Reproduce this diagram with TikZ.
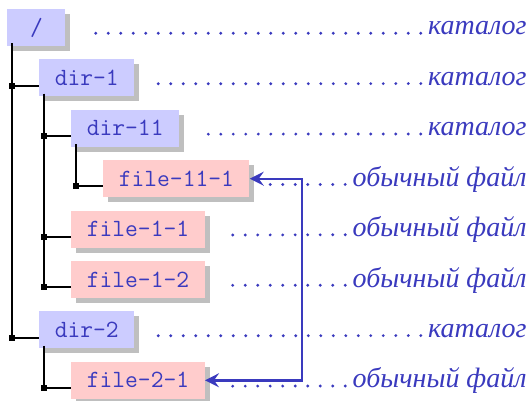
\documentclass[tikz,border=0pt]{standalone}
\usepackage{fontspec}
\newfontfamily\cyrit{Liberation Serif}
\usetikzlibrary{shadows,arrows.meta,calc}
\definecolor{txtblue}{RGB}{58,58,190}
\definecolor{dirfill}{RGB}{204,204,255}
\definecolor{filefill}{RGB}{255,204,204}
\definecolor{shadowgray}{RGB}{191,191,191}
\begin{document}
\begin{tikzpicture}[x=0.5pt,y=-0.5pt,
  box/.style={anchor=west, minimum height=18.5pt, minimum width=29pt, inner xsep=7.75pt, inner ysep=0pt,
    text=txtblue, font=\fontsize{12.4}{14}\selectfont\ttfamily,
    drop shadow={shadow xshift=2.5pt, shadow yshift=-2.5pt, fill=shadowgray, opacity=1}},
  dirbox/.style={box, fill=dirfill},
  filebox/.style={box, fill=filefill},
  lab/.style={anchor=base east, inner sep=0pt, text=txtblue, font=\cyrit\itshape\fontsize{14}{16}\selectfont},
  dots/.style={txtblue, line width=1.6pt, line cap=round, dash pattern=on 0pt off 6.25pt},
  tree/.style={black, line width=1pt},
  treedot/.style={fill=black, inner sep=0pt, minimum size=3pt},
  link/.style={txtblue, line width=1.2pt, {Stealth[length=7pt,width=7pt,inset=2.5pt]}-{Stealth[length=7pt,width=7pt,inset=2.5pt]}}
]
\useasboundingbox (0,0) rectangle (530,401);
% boxes
\node[dirbox]  (root) at (7,27.5)   {/};
\node[dirbox]  (d1)   at (39,77.9)  {dir-1};
\node[dirbox]  (d11)  at (71,128.3) {dir-11};
\node[filebox] (f111) at (103,178.7){file-11-1};
\node[filebox] (f11)  at (71,229.1) {file-1-1};
\node[filebox] (f12)  at (71,279.5) {file-1-2};
\node[dirbox]  (d2)   at (39,329.9) {dir-2};
\node[filebox] (f21)  at (71,380.3) {file-2-1};
% labels
\node[lab] (l0) at (527,35)    {каталог};
\node[lab] (l1) at (527,85.4)  {каталог};
\node[lab] (l2) at (527,135.8) {каталог};
\node[lab] (l3) at (527,186.2) {обычный файл};
\node[lab] (l4) at (527,236.6) {обычный файл};
\node[lab] (l5) at (527,287)   {обычный файл};
\node[lab] (l6) at (527,337.4) {каталог};
\node[lab] (l7) at (527,387.8) {обычный файл};
% dotted leaders
\foreach \b/\l in {root/l0,d1/l1,d11/l2,f111/l3,f11/l4,f12/l5,d2/l6,f21/l7}{
  \draw[dots] ([xshift=-3.5pt,yshift=0.9pt]\l.base west) -- ([xshift=10pt,yshift=0.9pt]\b.base east);
}
% tree
\foreach \p/\c in {root/d1,root/d2,d1/d11,d1/f11,d1/f12,d11/f111,d2/f21}{
  \draw[tree] ([xshift=2.5pt,yshift=1.5pt]\p.south west) |- (\c.base west);
  \node[treedot] at ([xshift=2.5pt]\p.south west |- \c.base west) {};
}
% link
\coordinate (turn) at (302,380.3);
\draw[link] (f111.east) -| (turn) -- (f21.east);
\end{tikzpicture}
\end{document}
